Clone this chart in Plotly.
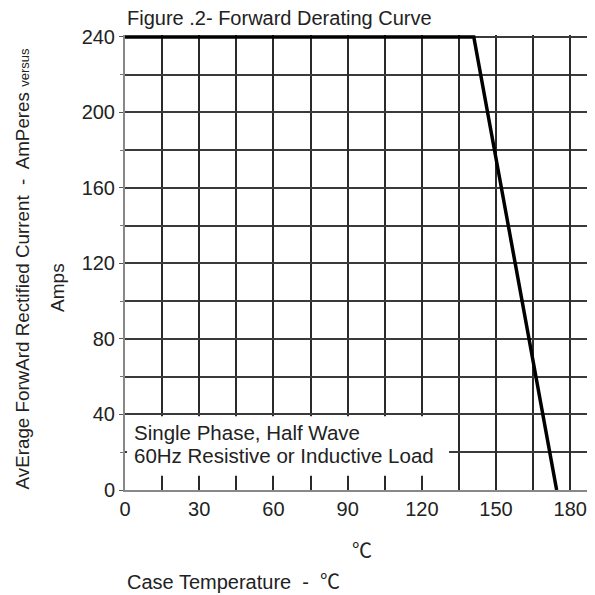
import plotly.graph_objects as go

# Data
temp_c = [0, 141, 174.5]
current_a = [240, 240, 0]
x_ticks = [0, 30, 60, 90, 120, 150, 180]
y_ticks = [0, 40, 80, 120, 160, 200, 240]

FONT = "Liberation Sans, Arial, sans-serif"
GRID = "#2a2a2a"

fig = go.Figure()
fig.add_trace(go.Scatter(x=temp_c, y=current_a, mode="lines",
                         line=dict(color="black", width=3.5), cliponaxis=False,
                         hoverinfo="skip", showlegend=False))

fig.update_layout(
    width=587, height=587,
    margin=dict(l=117, r=0, t=27, b=105),
    paper_bgcolor="white", plot_bgcolor="white",
    font=dict(family=FONT, size=19, color="#222"),
    xaxis=dict(range=[0, 190], tickvals=x_ticks, showgrid=True, gridcolor=GRID, gridwidth=2,
               minor=dict(dtick=15, tick0=0, showgrid=True, gridcolor=GRID, gridwidth=2),
               showline=True, linecolor="#888", linewidth=2, zeroline=False,
               ticks="", tickfont=dict(size=20, color="#222")),
    yaxis=dict(range=[0, 241], tickvals=y_ticks, showgrid=True, gridcolor="#3a3a3a", gridwidth=2,
               minor=dict(dtick=20, tick0=0, showgrid=True, gridcolor="#3a3a3a", gridwidth=2,
                          ticks="outside", ticklen=3, tickcolor="#777"),
               showline=True, linecolor="#888", linewidth=2, zeroline=False,
               ticks="outside", ticklen=4, tickcolor="#555",
               tickfont=dict(size=20, color="#222")),
)

# white box behind the load annotation (covers the grid)
fig.add_shape(type="rect", xref="x", yref="y", x0=0.8, x1=131, y0=7.5, y1=39,
              fillcolor="white", line=dict(width=0), layer="between")

fig.add_annotation(xref="paper", yref="paper", x=0.0, y=1.038, xanchor="left", yanchor="middle",
                   text="Figure .2- Forward Derating Curve", showarrow=False,
                   font=dict(size=20, color="#222"))

fig.add_annotation(xref="x", yref="y", x=3.0, y=30.2, xanchor="left", yanchor="middle",
                   text="Single Phase, Half Wave", showarrow=False,
                   font=dict(size=20.5, color="#222"))
fig.add_annotation(xref="x", yref="y", x=3.0, y=18.5, xanchor="left", yanchor="middle",
                   text="60Hz Resistive or Inductive Load", showarrow=False,
                   font=dict(size=20.5, color="#222"))

fig.add_annotation(xref="paper", yref="paper", x=-0.219, y=0.485, xanchor="center", yanchor="middle",
                   text="AvErage ForwArd Rectified Current  -  AmPeres <span style='font-size:13px'>versus</span>",
                   textangle=-90, showarrow=False, font=dict(size=18.8, color="#222"))
fig.add_annotation(xref="paper", yref="paper", x=-0.145, y=0.446, xanchor="center", yanchor="middle",
                   text="Amps", textangle=-90, showarrow=False, font=dict(size=19, color="#222"))

fig.add_annotation(xref="paper", yref="paper", x=0.504, y=-0.131, xanchor="center", yanchor="middle",
                   text="℃", showarrow=False,
                   font=dict(size=20, color="#222", family="Noto Sans CJK SC"))
fig.add_annotation(xref="paper", yref="paper", x=0.0, y=-0.198, xanchor="left", yanchor="middle",
                   text="Case Temperature  -  <span style='font-family:Noto Sans CJK SC'>℃</span>",
                   showarrow=False, font=dict(size=20, color="#222"))

fig.write_html("out.html")
